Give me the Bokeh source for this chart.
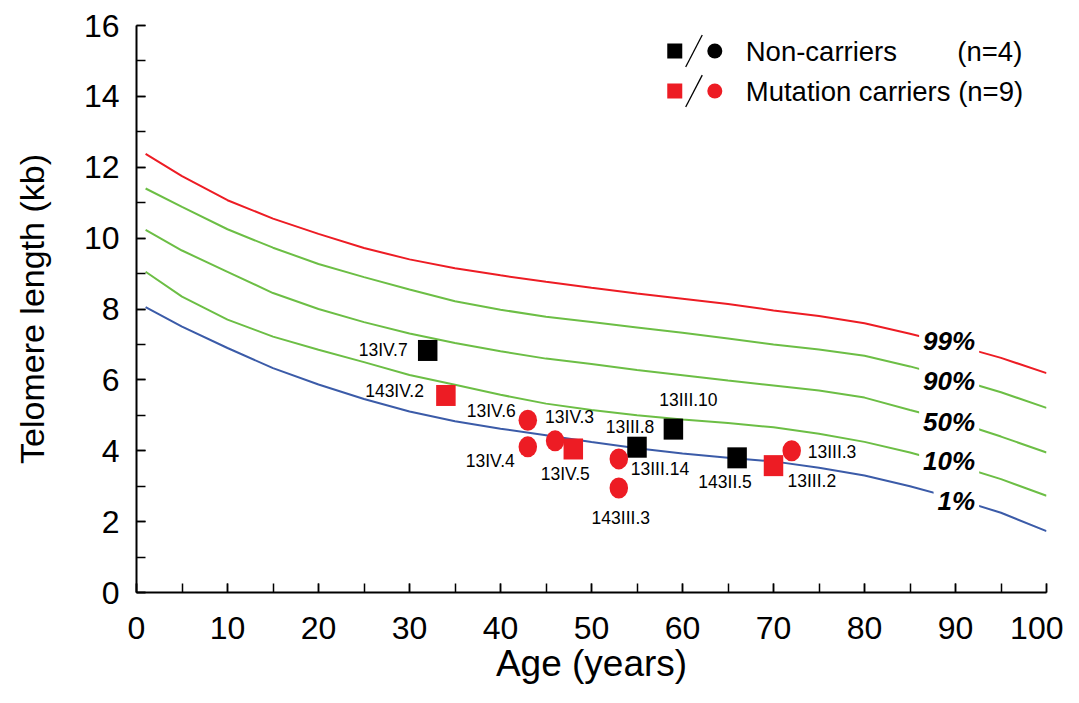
from bokeh.plotting import figure
from bokeh.models import Range1d, SingleIntervalTicker, ColumnDataSource, LabelSet, Label
from bokeh.core.properties import value
from bokeh.embed import file_html
from bokeh.resources import INLINE

# ---------------- data ----------------
ages = [1, 5, 10, 15, 20, 25, 30, 35, 40, 45, 50, 55, 60, 65, 70, 75, 80, 85, 90, 95, 100]
p99 = [12.38, 11.75, 11.07, 10.55, 10.12, 9.72, 9.40, 9.15, 8.95, 8.77, 8.60, 8.44, 8.29, 8.14, 7.96, 7.80, 7.60, 7.30, 6.98, 6.62, 6.19]
p90 = [11.40, 10.88, 10.25, 9.73, 9.27, 8.90, 8.55, 8.22, 7.98, 7.78, 7.63, 7.48, 7.33, 7.17, 7.00, 6.86, 6.68, 6.38, 6.03, 5.65, 5.21]
p50 = [10.23, 9.65, 9.05, 8.45, 8.00, 7.63, 7.31, 7.04, 6.81, 6.60, 6.45, 6.28, 6.13, 5.98, 5.84, 5.70, 5.50, 5.15, 4.82, 4.40, 3.95]
p10 = [9.05, 8.35, 7.70, 7.22, 6.85, 6.50, 6.14, 5.86, 5.58, 5.33, 5.15, 5.00, 4.88, 4.78, 4.66, 4.48, 4.25, 3.95, 3.60, 3.20, 2.73]
p1 = [8.05, 7.50, 6.90, 6.33, 5.87, 5.46, 5.11, 4.83, 4.62, 4.44, 4.25, 4.07, 3.92, 3.80, 3.70, 3.52, 3.30, 3.00, 2.65, 2.25, 1.73]

pct_names = ["99%", "90%", "50%", "10%", "1%"]

names = ["13IV.7", "143IV.2", "13IV.6", "13IV.4", "13IV.3", "13IV.5", "13III.8",
         "13III.14", "143III.3", "13III.10", "143II.5", "13III.2", "13III.3"]
subj_age = [32, 34, 43, 43, 46, 48, 55, 53, 53, 59, 66, 70, 72]
subj_tl = [6.83, 5.56, 4.86, 4.11, 4.28, 4.05, 4.10, 3.77, 2.95, 4.61, 3.80, 3.58, 4.00]
carrier = [False, True, True, True, True, True, False, True, True, False, False, True, True]
shape = ["square", "square", "circle", "circle", "circle", "square", "square",
         "circle", "circle", "square", "square", "square", "circle"]

legend_texts = ["Non-carriers", "Mutation carriers (n=9)"]
legend_n = ["(n=4)", ""]

# ---------------- layout / style ----------------
RED = "#ed1c24"
GREEN = "#6cbe45"
BLUE = "#3b5ba8"
FONT = "Liberation Sans"

# label placement (screen px offsets, +y = up) and alignment
label_dx = [-20, -22, -12, -13, -10, -8, -7, 12, 2, 15, -12, 14, 16]
label_dy = [0, 4, 9, -14, 24, -25, 20, -10, -30, 29, -24, -15, -1]
label_align = ["right", "right", "right", "right", "left", "center", "center",
               "left", "center", "center", "center", "left", "left"]

pct_x = 92.6
pct_y = [7.10, 5.98, 4.80, 3.72, 2.59]

p = figure(width=1063, height=687, output_backend="svg", toolbar_location=None,
           x_range=Range1d(0, 100), y_range=Range1d(0, 16),
           min_border_left=136, min_border_right=17, min_border_top=25, min_border_bottom=95)
p.outline_line_color = None
p.xgrid.visible = False
p.ygrid.visible = False
p.background_fill_color = "white"

# curves
for vals, col in [(p99, RED), (p90, GREEN), (p50, GREEN), (p10, GREEN), (p1, BLUE)]:
    p.line(ages, vals, line_color=col, line_width=2)

# subjects
colors = [RED if c else "black" for c in carrier]
sq = [i for i, s in enumerate(shape) if s == "square"]
ci = [i for i, s in enumerate(shape) if s == "circle"]
p.rect(x=[subj_age[i] for i in sq], y=[subj_tl[i] for i in sq], width=19.5, height=21,
       width_units="screen", height_units="screen",
       fill_color=[colors[i] for i in sq], line_color=None)
p.ellipse(x=[subj_age[i] for i in ci], y=[subj_tl[i] for i in ci], width=18.5, height=21,
          width_units="screen", height_units="screen",
          fill_color=[colors[i] for i in ci], line_color=None)

for al in ["left", "center", "right"]:
    idx = [i for i, a in enumerate(label_align) if a == al]
    src = ColumnDataSource(dict(x=[subj_age[i] for i in idx], y=[subj_tl[i] for i in idx],
                                t=[names[i] for i in idx],
                                dx=[label_dx[i] for i in idx], dy=[label_dy[i] for i in idx]))
    p.add_layout(LabelSet(x="x", y="y", text="t", source=src, x_offset="dx", y_offset="dy",
                          text_align=al, text_baseline="middle", text_font=value(FONT),
                          text_font_size="17.5px", text_color="black"))

# percentile labels
for lab, yy in zip(pct_names, pct_y):
    p.add_layout(Label(x=pct_x, y=yy, text=lab, text_align="right", text_baseline="middle",
                       text_font=FONT, text_font_style="bold italic", text_font_size="26px",
                       background_fill_color="white", padding=4, text_color="black"))

# legend (drawn manually: square / circle)
leg_y = [15.28, 14.15]
leg_col = ["black", RED]
p.rect(x=[59.15, 59.15], y=leg_y, width=15, height=15, width_units="screen", height_units="screen",
       fill_color=leg_col, line_color=None)
p.ellipse(x=[63.55, 63.55], y=leg_y, width=15, height=15, width_units="screen", height_units="screen",
          fill_color=leg_col, line_color=None)
p.segment(x0=[60.35, 60.35], y0=[yy - 0.45 for yy in leg_y], x1=[62.17, 62.17], y1=[yy + 0.45 for yy in leg_y],
          line_color="black", line_width=1.3)
for t, yy in zip(legend_texts, leg_y):
    p.add_layout(Label(x=66.95, y=yy, text=t, text_align="left", text_baseline="middle",
                       text_font=FONT, text_font_size="27.5px", text_color="black"))
for t, yy in zip(legend_n, leg_y):
    if t:
        p.add_layout(Label(x=90.2, y=yy, text=t, text_align="left", text_baseline="middle",
                           text_font=FONT, text_font_size="27.5px", text_color="black"))

# axes
p.xaxis.ticker = SingleIntervalTicker(interval=10, num_minor_ticks=2)
p.yaxis.ticker = SingleIntervalTicker(interval=2, num_minor_ticks=2)
for ax in (p.xaxis[0], p.yaxis[0]):
    ax.axis_line_color = "black"
    ax.axis_line_width = 2
    ax.major_tick_in = 9
    ax.major_tick_out = 0
    ax.minor_tick_in = 9
    ax.minor_tick_out = 0
    ax.major_tick_line_width = 1.5
    ax.minor_tick_line_width = 1.5
    ax.major_tick_line_color = "black"
    ax.minor_tick_line_color = "black"
    ax.major_label_text_font = FONT
    ax.major_label_text_font_size = "32px"
    ax.major_label_text_color = "black"
    ax.axis_label_text_font = FONT
    ax.axis_label_text_font_style = "normal"
    ax.axis_label_text_color = "black"

p.xaxis.major_label_standoff = 24
p.yaxis.major_label_standoff = 17
p.xaxis.axis_label = "Age (years)"
p.xaxis.axis_label_text_font_size = "37px"
p.xaxis.axis_label_standoff = 1
p.yaxis.axis_label = "Telomere length (kb)"
p.yaxis.axis_label_text_font_size = "34px"
p.yaxis.axis_label_standoff = 30

open("out.html", "w").write(file_html(p, INLINE))
